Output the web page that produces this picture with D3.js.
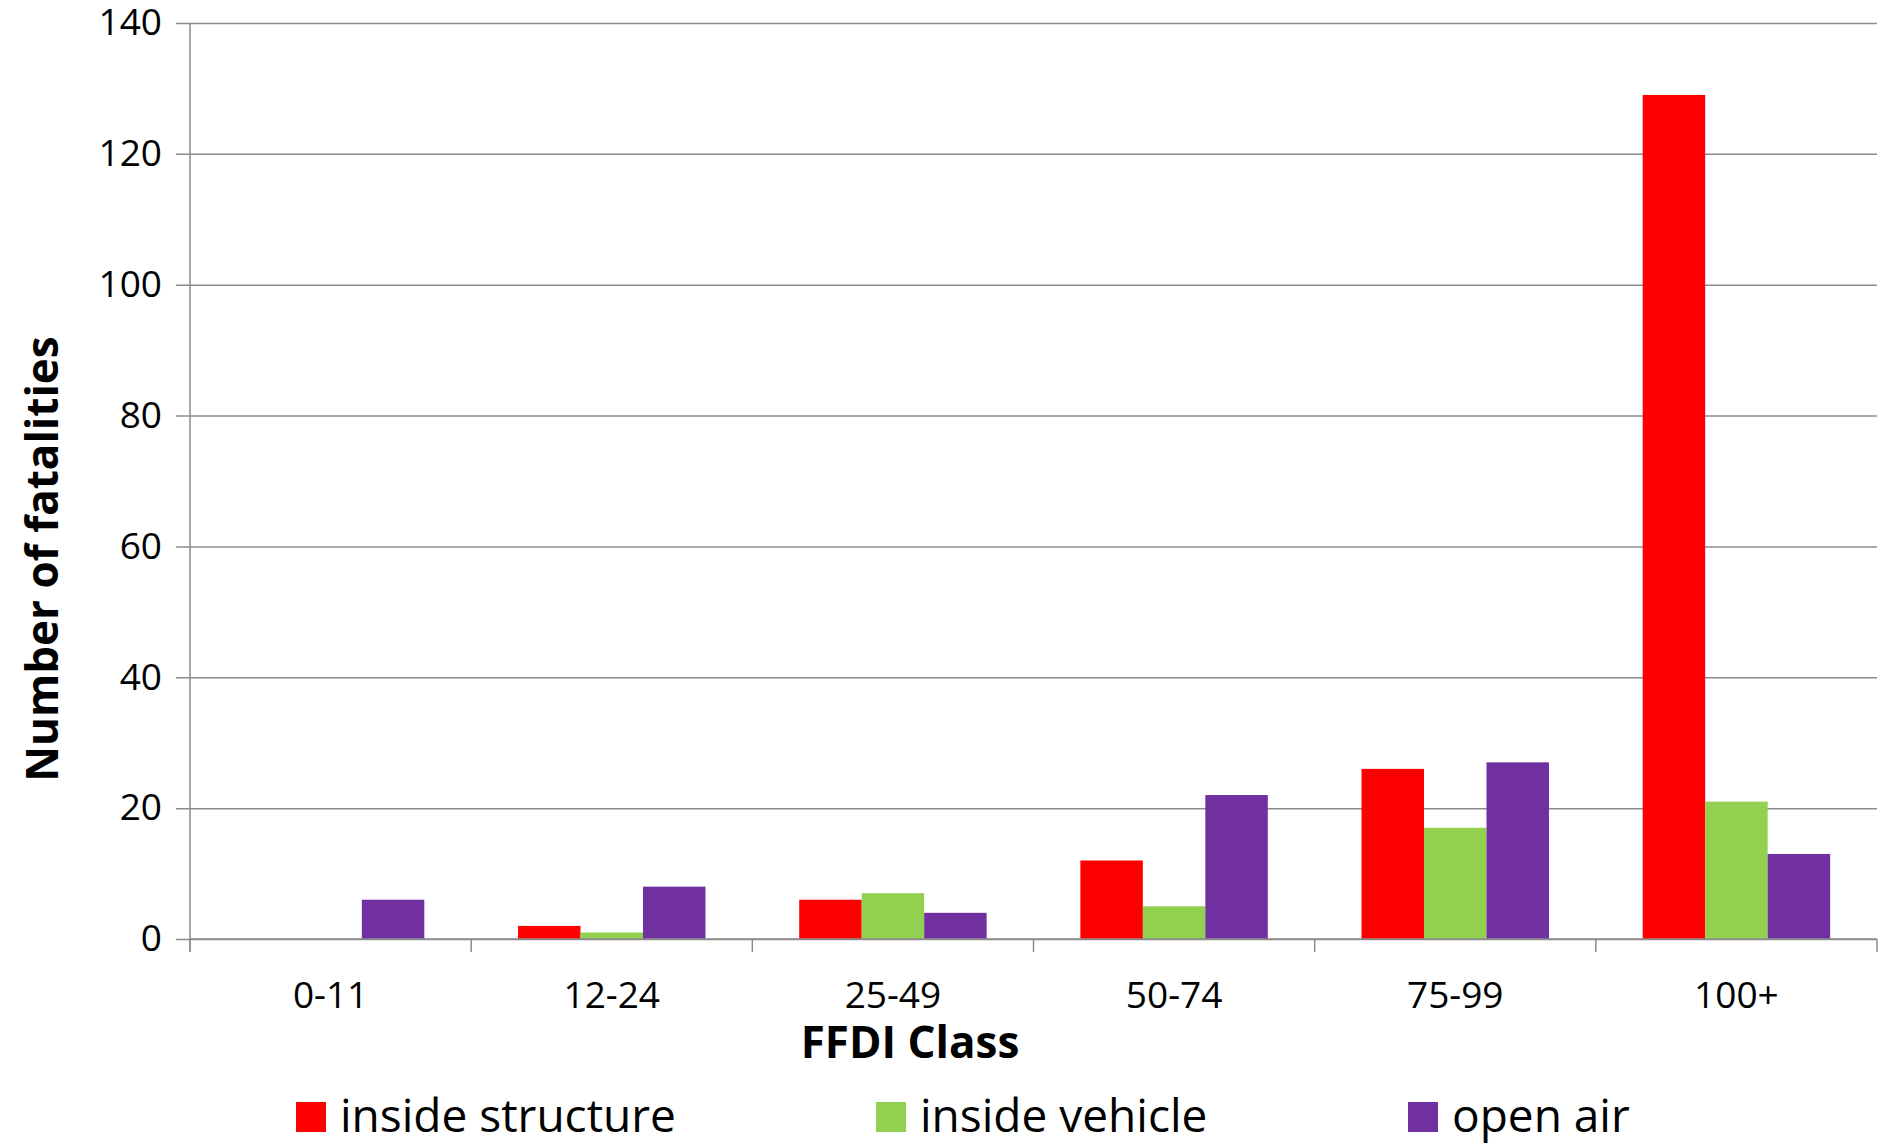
<!DOCTYPE html>
<html>
<head>
<meta charset="utf-8">
<script src="https://cdn.jsdelivr.net/npm/d3@7"></script>
<style>
  body { margin: 0; background: #fff; }
  svg { display: block; font-family: "Open Sans", sans-serif; }
  svg text { font-family: "Open Sans", sans-serif; }
</style>
</head>
<body>
<svg width="1884" height="1145"></svg>
<script>
const categories = ["0-11", "12-24", "25-49", "50-74", "75-99", "100+"];
const seriesNames = ["inside structure", "inside vehicle", "open air"];
const insideStructure = [0, 2, 6, 12, 26, 129];
const insideVehicle = [0, 1, 7, 5, 17, 21];
const openAir = [6, 8, 4, 22, 27, 13];
const colors = ["#ff0000", "#92d050", "#7030a0"];
const yTicks = [0, 20, 40, 60, 80, 100, 120, 140];

const values = [insideStructure, insideVehicle, openAir];

const svg = d3.select("svg"),
  margin = { top: 23, right: 7, bottom: 206, left: 190 },
  width = 1884 - margin.left - margin.right,
  height = 1145 - margin.top - margin.bottom;

const g = svg.append("g")
  .attr("transform", "translate(" + margin.left + "," + margin.top + ")");

const x0 = d3.scaleBand()
  .domain(categories)
  .range([0, width])
  .padding(0);

const x1 = d3.scaleBand()
  .domain(seriesNames)
  .range([0, x0.bandwidth()])
  .paddingInner(0)
  .paddingOuter(0.75);

const y = d3.scaleLinear()
  .domain([0, 140])
  .range([height, 0]);

// gridlines + y labels
const yAxis = g.append("g")
  .attr("transform", "translate(" + (-14) + ",0)")
  .call(d3.axisLeft(y).tickValues(yTicks).tickSize(-(width + 14)).tickPadding(28))
  .attr("font-family", null);
yAxis.select(".domain").remove();
yAxis.selectAll("line").attr("x1", 0).attr("x2", width + 14)
  .attr("stroke", "#8c8c8c").attr("stroke-width", 1.5);
yAxis.selectAll("text")
  .attr("x", -14)
  .style("font-size", "37px")
  .style("fill", "#000");

// bars
const groups = g.selectAll(".cat")
  .data(categories)
  .enter()
  .append("g")
  .attr("class", "cat")
  .attr("transform", d => "translate(" + x0(d) + ",0)");

groups.selectAll("rect")
  .data((d, i) => seriesNames.map((s, j) => ({ s: s, v: values[j][i], c: colors[j] })))
  .enter()
  .append("rect")
  .attr("x", d => x1(d.s))
  .attr("y", d => y(d.v))
  .attr("width", x1.bandwidth())
  .attr("height", d => height - y(d.v))
  .attr("fill", d => d.c);

// y axis line
g.append("line")
  .attr("x1", 0).attr("x2", 0)
  .attr("y1", 0).attr("y2", height + 13)
  .attr("stroke", "#8c8c8c").attr("stroke-width", 1.5);

// x axis line and boundary ticks
g.append("line")
  .attr("x1", 0).attr("x2", width)
  .attr("y1", height).attr("y2", height)
  .attr("stroke", "#8c8c8c").attr("stroke-width", 1.5);

const bounds = d3.range(categories.length + 1).map(i => i * x0.step());
g.selectAll(".bt")
  .data(bounds)
  .enter()
  .append("line")
  .attr("x1", d => d).attr("x2", d => d)
  .attr("y1", height).attr("y2", height + 13)
  .attr("stroke", "#8c8c8c").attr("stroke-width", 1.5);

const xAxis = g.append("g")
  .attr("transform", "translate(0," + height + ")")
  .call(d3.axisBottom(x0).tickSize(0).tickPadding(0))
  .attr("font-family", null);
xAxis.select(".domain").remove();
xAxis.selectAll("text")
  .attr("y", 69)
  .attr("dy", 0)
  .style("font-size", "37px")
  .style("fill", "#000");

// axis titles
svg.append("text")
  .attr("x", 910)
  .attr("y", 1058)
  .attr("text-anchor", "middle")
  .style("font-size", "44px")
  .style("font-weight", "bold")
  .text("FFDI Class");

svg.append("text")
  .attr("transform", "translate(58,559) rotate(-90)")
  .attr("text-anchor", "middle")
  .style("font-size", "44px")
  .style("font-weight", "bold")
  .text("Number of fatalities");

// legend
const legendX = [296, 876, 1408];
const legend = svg.selectAll(".lg")
  .data(seriesNames)
  .enter()
  .append("g")
  .attr("transform", (d, i) => "translate(" + legendX[i] + ",1102)");
legend.append("rect")
  .attr("width", 30).attr("height", 30)
  .attr("fill", (d, i) => colors[i]);
legend.append("text")
  .attr("x", 44)
  .attr("y", 30)
  .style("font-size", "46px")
  .text(d => d);
</script>
</body>
</html>
